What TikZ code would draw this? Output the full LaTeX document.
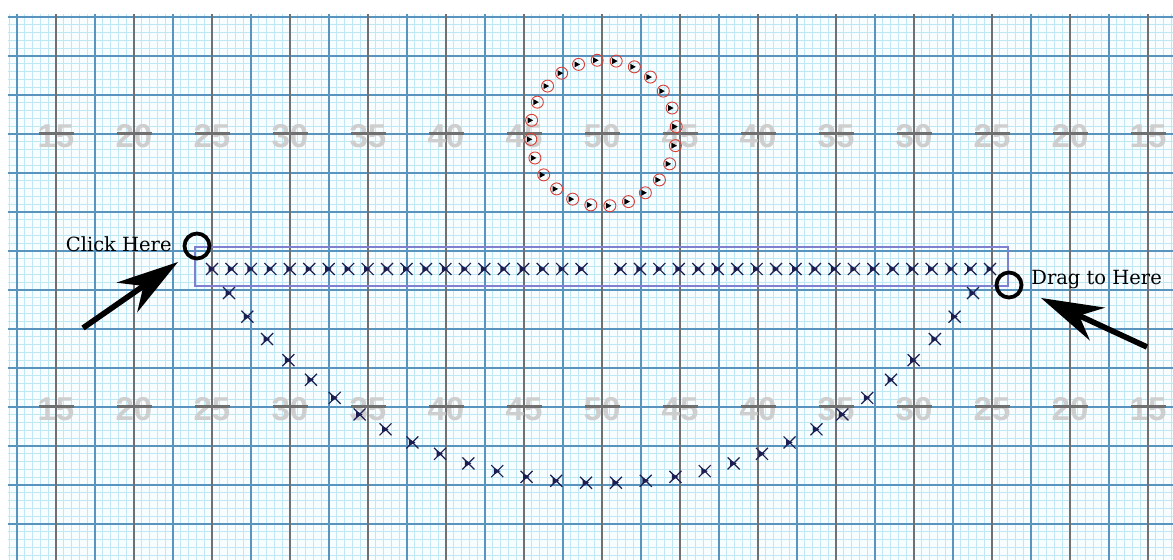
\documentclass[tikz,border=0pt]{standalone}
\usepackage{fontspec}
\setmainfont{DejaVu Serif}
\newfontfamily\yardfont{Liberation Sans}
\usetikzlibrary{arrows.meta}

\definecolor{paper}{RGB}{248,253,255}
\definecolor{finegrid}{RGB}{192,231,244}
\definecolor{majorgrid}{RGB}{88,148,190}
\definecolor{yardline}{RGB}{112,112,112}
\definecolor{yardnum}{RGB}{206,206,206}
\definecolor{boxline}{RGB}{128,128,208}
\definecolor{markblue}{RGB}{28,30,82}
\definecolor{markred}{RGB}{218,62,52}

\tikzset{
  xmk/.pic={
    \draw[markblue, line width=0.6pt] (-6,-6) -- (6,6) (-6,6) -- (6,-6);
    \fill[markblue] (-3.5,-3.5) -- (3,0) -- (-3.5,3.5) -- cycle;
  },
  dotmk/.pic={
    \draw[markred, line width=0.45pt] (0.5,0) circle (3pt);
    \fill[black] (-3.5,-3) -- (2,0) -- (-3.5,3) -- cycle;
  },
  yard/.style={font=\yardfont\bfseries\fontsize{16.5pt}{18pt}\selectfont, text=yardnum, inner sep=0pt},
  yarddash/.style={yardline, line width=1.5pt},
  selbox/.style={boxline, line width=1.1pt},
  handle/.style={circle, draw=black, line width=1.9pt, minimum size=12.5pt, inner sep=0pt},
  hint/.style={font=\fontsize{9.75pt}{11pt}\selectfont, inner sep=0pt},
  pointer/.style={line width=2.8pt, -{Stealth[length=31pt, width=18pt, inset=10pt]}},
}

\begin{document}
\begin{tikzpicture}[x=0.5pt, y=-0.5pt]
\useasboundingbox (0,0) rectangle (1173,560);

% Paper and grid
\fill[paper] (8,14) rectangle (1173,560);
\begin{scope}
\clip (8,14) rectangle (1173,560);
\foreach \i in {-1,...,148}
  \draw[finegrid, line width=0.45pt] (17+7.8*\i,14) -- (17+7.8*\i,560);
\foreach \j in {-1,...,70}
  \draw[finegrid, line width=0.45pt] (8,17+7.8*\j) -- (1173,17+7.8*\j);
\foreach \j in {0,...,14}
  \draw[majorgrid, line width=0.65pt] (8,17+39*\j) -- (1173,17+39*\j);
\foreach \k in {0,...,14}
  \draw[majorgrid, line width=0.65pt] (17+78*\k,14) -- (17+78*\k,560);
\foreach \k in {0,...,14}
  \draw[yardline, line width=0.7pt] (56+78*\k,14) -- (56+78*\k,560);
\end{scope}

% Yard numbers
\foreach \lbl [count=\k from 0] in {15,20,25,30,35,40,45,50,45,40,35,30,25,20,15} {
  \node[yard] (yt\k) at (56+78*\k,136) {\lbl};
  \node[yard] (yb\k) at (56+78*\k,409) {\lbl};
  \draw[yarddash] (39+78*\k,134) -- ++(35,0);
  \draw[yarddash] (39+78*\k,407) -- ++(35,0);
}

% Circle of players
\foreach \a in {5,20,...,350}
  \pic at ({603+73*cos(\a)},{133-73*sin(\a)}) {dotmk};

% Selection box
\draw[selbox] (195,247) rectangle (1008,286);

% Line of players
\foreach \i in {0,...,19}
  \pic at (212+19.45*\i,269) {xmk};
\foreach \i in {21,...,40}
  \pic at (212+19.45*\i,269) {xmk};

% Arc of players
\foreach \i in {0,...,29}
  \pic at ({601+459.2*sin(-54.1+3.731*\i)},{23.8+459.2*cos(-54.1+3.731*\i)}) {xmk};

% Handles
\node[handle] (clickhandle) at (197,246) {};
\node[handle] (draghandle) at (1009,285) {};
\node[hint, anchor=base east] (clicklabel) at (172,252) {Click Here};
\node[hint, anchor=base west] (draglabel) at (1031,285) {Drag to Here};

% Pointers
\coordinate (clicktail) at (83,328);
\coordinate (clicktip) at (178,262);
\draw[pointer] (clicktail) -- (clicktip);
\coordinate (dragtail) at (1147,347);
\coordinate (dragtip) at (1041,298);
\draw[pointer] (dragtail) -- (dragtip);

\end{tikzpicture}
\end{document}
